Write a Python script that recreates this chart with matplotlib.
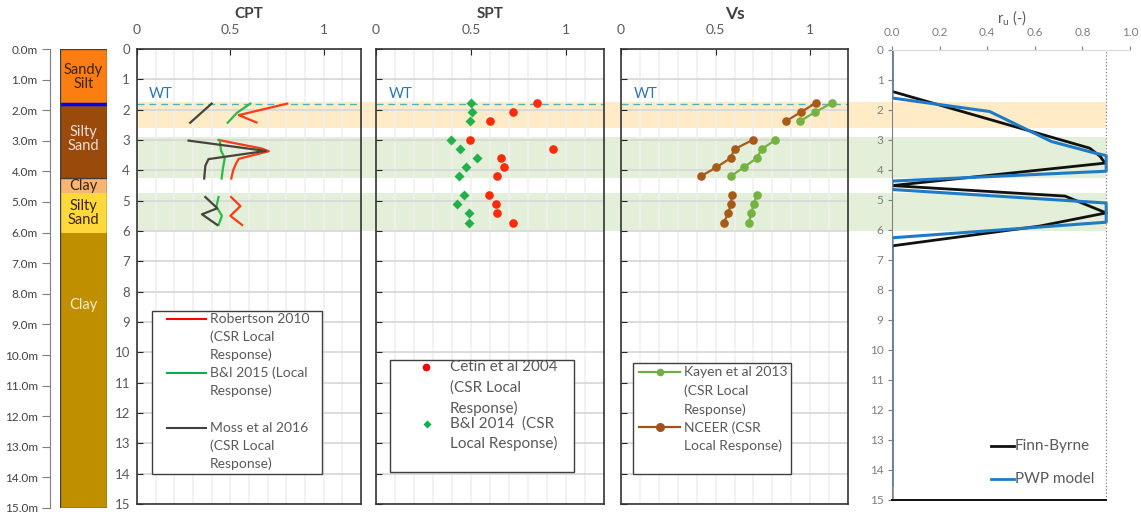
import numpy as np
import matplotlib.pyplot as plt
from matplotlib.transforms import blended_transform_factory
from matplotlib.patches import Rectangle
from matplotlib.lines import Line2D

plt.rcParams['font.family'] = ['Lato', 'DejaVu Sans']

nan = np.nan

# ---------------- soil profile ----------------
layer_names = ['Sandy\nSilt', 'Silty\nSand', 'Clay', 'Silty\nSand', 'Clay']
layer_top = [0.0, 1.8, 4.2, 4.7, 6.0]
layer_bottom = [1.8, 4.2, 4.7, 6.0, 15.0]
water_table = 1.8

# ---------------- shaded depth ranges ----------------
band_top = [1.75, 2.9, 4.75]
band_bottom = [2.6, 4.25, 6.0]

# ---------------- CPT based curves ----------------
robertson = [0.805, 0.545, 0.64, nan, 0.437, 0.668, 0.706, 0.545, 0.53, 0.515, 0.505, nan,
             0.504, 0.554, 0.50, 0.563]
robertson_z = [1.8, 2.18, 2.42, nan, 3.0, 3.28, 3.37, 3.62, 3.78, 4.0, 4.27, nan,
               4.88, 5.18, 5.5, 5.8]
bi2015 = [0.607, 0.536, 0.486, nan, 0.443, 0.45, 0.47, 0.46, 0.453, nan,
          0.437, 0.425, 0.455, 0.437]
bi2015_z = [1.8, 2.1, 2.43, nan, 3.0, 3.35, 3.6, 3.95, 4.27, nan,
            4.88, 5.2, 5.5, 5.8]
moss = [0.40, 0.285, nan, 0.276, 0.69, 0.383, 0.366, 0.36, nan,
        0.366, 0.43, 0.348, 0.43]
moss_z = [1.8, 2.43, nan, 3.02, 3.36, 3.63, 3.85, 4.27, nan,
          4.88, 5.25, 5.45, 5.8]

# ---------------- SPT points ----------------
spt_z = [1.78, 2.08, 2.38, 3.0, 3.3, 3.6, 3.9, 4.2, 4.82, 5.12, 5.42, 5.72]
cetin = [0.846, 0.723, 0.60, 0.495, 0.93, 0.656, 0.674, 0.638, 0.596, 0.632, 0.638, 0.719]
bi2014 = [0.50, 0.503, 0.495, 0.395, 0.442, 0.53, 0.472, 0.439, 0.463, 0.425, 0.488, 0.488]

# ---------------- Vs based points ----------------
vs_z = [1.78, 2.08, 2.38, 3.0, 3.3, 3.6, 3.9, 4.2, 4.82, 5.12, 5.42, 5.72]
vs_layer = [0, 0, 0, 1, 1, 1, 1, 1, 2, 2, 2, 2]
kayen = [1.117, 1.025, 0.947, 0.816, 0.744, 0.717, 0.649, 0.579, 0.717, 0.702, 0.688, 0.677]
nceer = [1.03, 0.951, 0.872, 0.696, 0.60, 0.579, 0.504, 0.421, 0.588, 0.579, 0.568, 0.542]

# ---------------- excess pore pressure ratio ----------------
finn_ru = [0, 0, 0.83, 0.874, 0.895, 0, 0.727, 0.90, 0.62, 0, 0]
finn_z = [0, 1.38, 3.27, 3.54, 3.77, 4.52, 4.87, 5.43, 5.87, 6.53, 15]
pwp_ru = [0, 0, 0.41, 0.67, 0.85, 0.9, 0.9, 0, 0, 0.9, 0.9, 0, 0]
pwp_z = [0, 1.6, 2.05, 3.05, 3.43, 3.52, 4.04, 4.37, 4.65, 5.1, 5.74, 6.26, 14.5]

# ---------------- styling ----------------
layer_colors = ['#FC7E12', '#9A4A0B', '#F8B572', '#FFD83C', '#BF8F00']
layer_text_colors = ['#3B2410', '#F3DCD2', '#3B2410', '#3B2410', '#F6EBCB']
layer_label_z = [0.9, 2.95, 4.47, 5.36, 8.35]
band_colors = ['#FFEBC6', '#E3EFD8', '#E3EFD8']
GRAY_TXT = '#595959'

W, H = 1141, 514
fig = plt.figure(figsize=(W / 100, H / 100), dpi=100)


def fx(x):
    return x / W


def fy(y):
    return 1 - y / H


def px_axes(x0, y0, x1, y1):
    ax = fig.add_axes([x0 / W, 1 - y1 / H, (x1 - x0) / W, (y1 - y0) / H])
    ax.set_facecolor('none')
    return ax


# ---- soil column ----
ax_log = px_axes(60, 49, 107, 508)
mids = [(t + b) / 2 for t, b in zip(layer_top, layer_bottom)]
thick = [b - t for t, b in zip(layer_top, layer_bottom)]
ax_log.barh(mids, [1] * len(mids), height=thick, left=0, color=layer_colors, linewidth=0)
ax_log.set_xlim(0, 1)
ax_log.set_ylim(15, 0)
ax_log.axhline(water_table, color='#0000FF', lw=2.5)
ax_log.axhline(layer_bottom[1], color='#3F3F3F', lw=1)
ax_log.add_patch(Rectangle((0, 0), 1, 1, transform=ax_log.transAxes, fill=False,
                           ec='#404040', lw=1, zorder=5))
for name, z, c in zip(layer_names, layer_label_z, layer_text_colors):
    ax_log.text(0.5, z, name, ha='center', va='center', color=c, fontsize=10.5,
                linespacing=1.0)
for s in ['top', 'right', 'bottom']:
    ax_log.spines[s].set_visible(False)
ax_log.spines['left'].set_position(('outward', 7))
ax_log.spines['left'].set_color('#7F7F7F')
ax_log.set_xticks([])
ax_log.set_yticks(range(16))
ax_log.set_yticklabels([f'{d:.1f}m' for d in range(16)])
ax_log.tick_params(axis='y', direction='out', length=6, color='#7F7F7F',
                   labelsize=8.5, labelcolor='#404040', pad=3)

# ---- shaded bands across the test panels ----
ax_cpt = px_axes(137, 49, 361, 504)
ax_spt = px_axes(376, 49, 604, 504)
ax_vs = px_axes(621, 49, 848, 504)
ax_ru = px_axes(892, 50, 1130, 500)

for ax in (ax_cpt, ax_spt, ax_vs):
    ax.set_xlim(0, 1.2)
    ax.set_ylim(15, 0)

band_tr = blended_transform_factory(fig.transFigure, ax_cpt.transData)
for t, b, c in zip(band_top, band_bottom, band_colors):
    fig.add_artist(Rectangle((fx(137), t), fx(1106) - fx(137), b - t,
                             transform=band_tr, facecolor=c, edgecolor='none', zorder=-1))

# ---- common styling of the three test panels ----
titles = ['CPT', 'SPT', 'Vs']
title_sizes = [11, 11, 12.5]
for i, ax in enumerate((ax_cpt, ax_spt, ax_vs)):
    ax.set_yticks(range(16))
    ax.set_xticks([0, 0.5, 1])
    ax.set_xticklabels(['0', '0.5', '1'])
    ax.set_xticks(np.arange(0.1, 1.15, 0.1), minor=True)
    ax.xaxis.tick_top()
    ax.tick_params(axis='x', which='major', direction='in', length=4, color='#262626',
                   labelsize=10, labelcolor=GRAY_TXT, pad=9)
    ax.tick_params(axis='x', which='minor', length=0)
    ax.tick_params(axis='y', direction='in', length=4, color='#262626',
                   labelsize=9.5, labelcolor=GRAY_TXT, pad=5, labelleft=(i == 0))
    ax.grid(axis='y', which='major', color='#D9D9D9', lw=1.3, zorder=0)
    ax.grid(axis='x', which='both', color='#F0F0F0', lw=1.2, zorder=0)
    ax.set_axisbelow(True)
    for s in ax.spines.values():
        s.set_color('#333333')
        s.set_linewidth(1.2)
    ax.plot([0, 1.2], [water_table, water_table], color='#4FB3BF', lw=1.0,
            dashes=(5, 3.5))
    ax.text(0.065, water_table - 0.1, 'WT', color='#2E75B6', fontsize=10.5,
            ha='left', va='bottom')
    ax.text(0.5, 1 + 35 / 455, titles[i], transform=ax.transAxes, ha='center',
            va='center', fontsize=title_sizes[i], fontweight='bold', color='#404040')

# ---- CPT ----
red_c = '#FF3A14'
green_c = '#2DB84A'
dark_c = '#45453A'
ax_cpt.plot(robertson, robertson_z, color=red_c, lw=1.6)
ax_cpt.plot(bi2015, bi2015_z, color=green_c, lw=1.6)
ax_cpt.plot(moss, moss_z, color=dark_c, lw=1.6)

# ---- SPT ----
ax_spt.plot(cetin, spt_z, 'o', color='#FF2A0A', ms=6.2, mec='none')
ax_spt.plot(bi2014, spt_z, 'D', color='#22B04A', ms=5.2, mec='none')

# ---- Vs ----
kayen_c = '#76B143'
nceer_c = '#A85A18'
vs_layer_arr = np.array(vs_layer)
for g in np.unique(vs_layer_arr):
    m = vs_layer_arr == g
    ax_vs.plot(np.array(kayen)[m], np.array(vs_z)[m], '-o', color=kayen_c, lw=1.6,
               ms=6.2, mec='none')
    ax_vs.plot(np.array(nceer)[m], np.array(vs_z)[m], '-o', color=nceer_c, lw=1.6,
               ms=6.2, mec='none')

# ---- ru panel ----
ax_ru.set_xlim(0, 1.0)
ax_ru.set_ylim(15, 0)
ax_ru.plot(finn_ru, finn_z, color='#111111', lw=2.0)
ax_ru.plot(pwp_ru, pwp_z, color='#1F7BC6', lw=2.2)
ax_ru.axvline(0.9, color='#7F7F7F', lw=0.9, ls=':')
ax_ru.xaxis.tick_top()
ax_ru.set_xticks(np.arange(0, 1.01, 0.2))
ax_ru.set_xticklabels([f'{v:.1f}' for v in np.arange(0, 1.01, 0.2)])
ax_ru.set_yticks(range(16))
ax_ru.tick_params(axis='x', direction='out', length=3, color='#7F7F7F', labelsize=8.5,
                  labelcolor='#7F7F7F', pad=6)
ax_ru.tick_params(axis='y', direction='out', length=3, color='#7F7F7F', labelsize=8.5,
                  labelcolor='#7F7F7F', pad=3)
ax_ru.spines['right'].set_visible(False)
ax_ru.spines['top'].set_color('#D9D9D9')
ax_ru.spines['left'].set_color('#7F7F7F')
ax_ru.spines['bottom'].set_bounds(0, 0.9)
ax_ru.spines['bottom'].set_linewidth(1.4)
ax_ru.spines['bottom'].set_color('#111111')
fig.text(fx(1012), fy(18), r'r$_\mathregular{u}$ (-)', ha='center', va='center',
         fontsize=10.5, color=GRAY_TXT)


# ---------------- legend boxes ----------------
def key_box(x0, y0, x1, y1):
    fig.add_artist(Rectangle((fx(x0), fy(y1)), (x1 - x0) / W, (y1 - y0) / H,
                             transform=fig.transFigure, facecolor='white',
                             edgecolor='#3F3F3F', lw=1.0, zorder=10))


def key_handle(xs, y, **kw):
    fig.add_artist(Line2D([fx(x) for x in xs], [fy(y)] * len(xs),
                          transform=fig.transFigure, zorder=11, **kw))


def key_text(x, ys, lines, size):
    for yy, s in zip(ys, lines):
        fig.text(fx(x), fy(yy), s, ha='left', va='center', fontsize=size,
                 color=GRAY_TXT, zorder=12)


# CPT
key_box(152, 311, 322, 474)
key_handle([167, 206], 319, color='#FF0000', lw=1.5)
key_handle([167, 206], 373, color='#00B050', lw=1.5)
key_handle([167, 206], 428, color='#404040', lw=1.5)
key_text(210, [319, 337, 355], ['Robertson 2010', '(CSR Local', 'Response)'], 10)
key_text(210, [373, 391], ['B&I 2015 (Local', 'Response)'], 10)
key_text(210, [428, 446, 464], ['Moss et al 2016', '(CSR Local', 'Response)'], 10)

# SPT
key_box(390, 360, 574, 472)
key_handle([425.7], 366.5, marker='o', color='#FF0000', ms=5.5, mec='none', ls='none')
key_handle([426.7], 423.7, marker='D', color='#00B050', ms=4.5, mec='none', ls='none')
key_text(450, [366.7, 387.3, 408.3], ['Cetin et al 2004', '(CSR Local', 'Response)'], 11)
key_text(450, [423.3, 443.3], ['B&I 2014  (CSR', 'Local Response)'], 11)

# Vs
key_box(633, 363, 791, 474)
key_handle([639, 659.5, 680], 372.3, color='#70AD47', lw=1.6, marker='o',
           markevery=[1], ms=5.5, mec='none')
key_handle([639, 659.5, 680], 427.3, color='#A0521C', lw=1.6, marker='o',
           markevery=[1], ms=6.5, mec='none')
key_text(684, [372.3, 390.7, 409.3], ['Kayen et al 2013', '(CSR Local', 'Response)'], 10)
key_text(684, [427.3, 446], ['NCEER (CSR', 'Local Response)'], 10)

# ru
key_handle([991, 1014], 445.7, color='#111111', lw=2)
key_handle([991, 1014], 479, color='#1F7BC6', lw=2)
key_text(1015, [445.7, 479], ['Finn-Byrne', 'PWP model'], 11)

fig.savefig('out.png', dpi=100)
